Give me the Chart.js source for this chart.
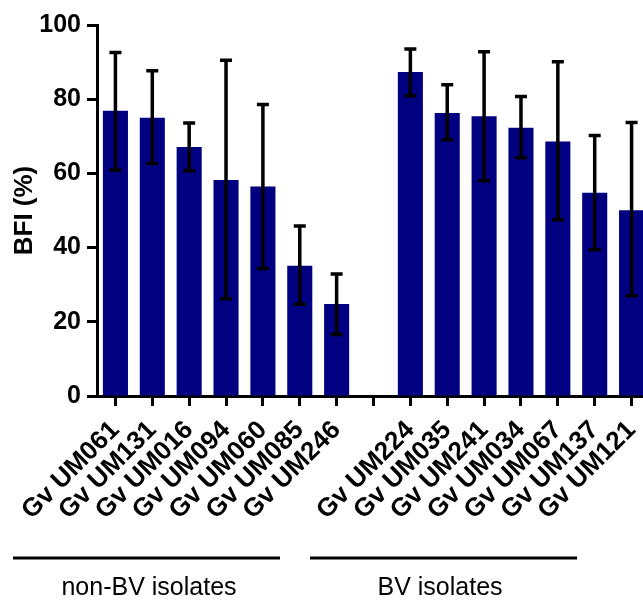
<!DOCTYPE html>
<html>
<head>
<meta charset="utf-8">
<script src="https://cdn.jsdelivr.net/npm/chart.js@4/dist/chart.umd.min.js"></script>
<style>
  html, body { margin: 0; padding: 0; overflow: hidden; background: #fff; }
  #wrap { width: 650px; height: 600px; }
</style>
</head>
<body>
<div id="wrap"><canvas id="c" width="650" height="600"></canvas></div>
<script>
// ---- data ----
const categories = ["Gv UM061","Gv UM131","Gv UM016","Gv UM094","Gv UM060","Gv UM085","Gv UM246","",
                    "Gv UM224","Gv UM035","Gv UM241","Gv UM034","Gv UM067","Gv UM137","Gv UM121"];
const bfiMean  = [76.9, 75.0, 67.1, 58.2, 56.5, 35.1, 24.8, null, 87.3, 76.3, 75.4, 72.3, 68.6, 54.8, 50.1];
const bfiUpper = [92.6, 87.7, 73.6, 90.5, 78.6, 45.8, 32.9, null, 93.5, 83.9, 92.8, 80.7, 90.1, 70.2, 73.7];
const bfiLower = [60.9, 62.7, 60.7, 26.2, 34.4, 24.7, 16.6, null, 80.9, 69.1, 58.0, 64.2, 47.5, 39.4, 27.0];
const yTicks = [0, 20, 40, 60, 80, 100];
const groupLabels = ["non-BV isolates", "BV isolates"];

const FONT = "'Liberation Sans', Arial, sans-serif";

const errorBars = {
  id: 'errorBars',
  afterDatasetsDraw(chart) {
    const ctx = chart.ctx, xs = chart.scales.x, ys = chart.scales.y;
    ctx.save();
    ctx.strokeStyle = '#000';
    ctx.lineWidth = 3.5;
    ctx.lineCap = 'butt';
    const cap = 6;
    bfiMean.forEach((m, i) => {
      if (m === null) return;
      const x = xs.getPixelForValue(i);
      const yH = ys.getPixelForValue(bfiUpper[i]);
      const yL = ys.getPixelForValue(bfiLower[i]);
      ctx.beginPath();
      ctx.moveTo(x, yL); ctx.lineTo(x, yH);
      ctx.moveTo(x - cap, yH); ctx.lineTo(x + cap, yH);
      ctx.moveTo(x - cap, yL); ctx.lineTo(x + cap, yL);
      ctx.stroke();
    });
    ctx.restore();
  }
};

const groups = {
  id: 'groups',
  afterDraw(chart) {
    const ctx = chart.ctx;
    ctx.save();
    ctx.strokeStyle = '#000';
    ctx.lineWidth = 3;
    ctx.beginPath();
    ctx.moveTo(13, 558); ctx.lineTo(280, 558);
    ctx.moveTo(310, 558); ctx.lineTo(577, 558);
    ctx.stroke();
    ctx.fillStyle = '#000';
    ctx.font = "25px " + FONT;
    ctx.textAlign = 'center';
    ctx.textBaseline = 'middle';
    ctx.fillText(groupLabels[0], 149, 588);
    ctx.fillText(groupLabels[1], 440, 588);
    ctx.restore();
  }
};

new Chart(document.getElementById('c'), {
  type: 'bar',
  data: {
    labels: categories,
    datasets: [{
      data: bfiMean,
      backgroundColor: '#000080',
      borderWidth: 0,
      barPercentage: 0.68,
      categoryPercentage: 1.0
    }]
  },
  options: {
    responsive: false,
    animation: false,
    layout: { padding: { top: 25, right: 0, bottom: 0, left: 0 } },
    plugins: { legend: { display: false }, tooltip: { enabled: false } },
    scales: {
      x: {
        offset: true,
        grid: { display: true, drawOnChartArea: false, drawTicks: true, tickLength: 10, tickWidth: 3, color: '#000', offset: false },
        border: { display: true, color: '#000', width: 3 },
        ticks: {
          color: '#000', font: { family: FONT, size: 26, weight: 'bold' },
          minRotation: 45, maxRotation: 45, autoSkip: false, padding: 9
        },
        afterFit(s) { s.height = 204; s.paddingRight = 0; s.paddingLeft = 0; }
      },
      y: {
        min: 0, max: 100,
        afterBuildTicks(s) { s.ticks = yTicks.map(v => ({ value: v })); },
        grid: { display: true, drawOnChartArea: false, drawTicks: true, tickLength: 10, tickWidth: 3, color: '#000' },
        border: { display: true, color: '#000', width: 3 },
        ticks: { color: '#000', font: { family: FONT, size: 25, weight: 'bold' }, padding: 6 },
        title: { display: true, text: 'BFI (%)', color: '#000', font: { family: FONT, size: 26, weight: 'bold' }, padding: { top: 9, bottom: 0 } },
        afterFit(s) { s.width = 97; }
      }
    }
  },
  plugins: [errorBars, groups]
});
</script>
</body>
</html>
